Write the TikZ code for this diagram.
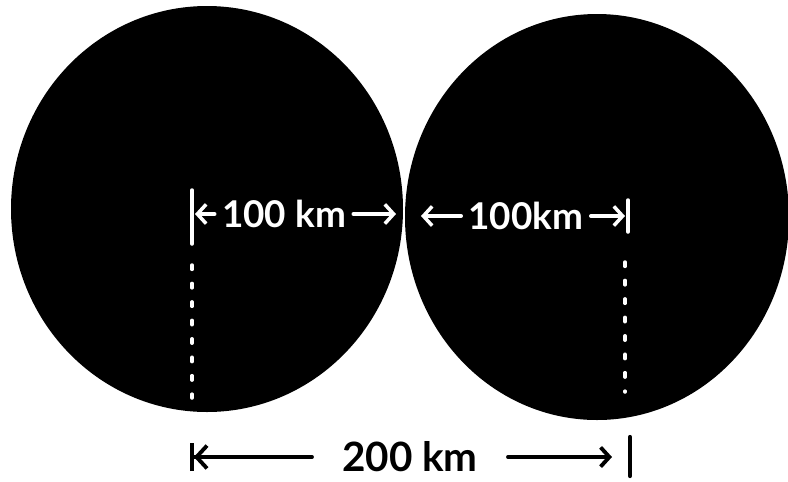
\documentclass[tikz,border=0pt]{standalone}
\usepackage{fontspec}
\setmainfont{Lato}
\usetikzlibrary{arrows.meta}
\tikzset{
  lbl/.style={font=\fontsize{21}{25}\selectfont\bfseries, inner sep=4pt, text=white},
  dim/.style={line width=2pt, line cap=round, -{Straight Barb[length=5pt,width=11pt]}},
  dotline/.style={white, line width=2pt, line cap=round, dash pattern=on 2.5pt off 8pt},
}
\begin{document}
\begin{tikzpicture}[x=0.02cm, y=-0.02cm, line join=round]
  \useasboundingbox (0,0) rectangle (788,481);

  % Two discs
  \fill (207,209) ellipse [x radius=196, y radius=203];
  \fill (597,217) ellipse [x radius=192, y radius=203];

  % Radius marks
  \coordinate (lbar) at (195,214);
  \coordinate (rtouch) at (396,214);
  \coordinate (ltouch) at (421,216);
  \coordinate (rbar) at (625,216);

  \draw[white, line width=2pt, line cap=round] (192,190) -- (192,244);
  \draw[white, line width=2pt, line cap=round] (628,200) -- (628,232);

  \node[lbl] (lkm) at (284,214) {100 km};
  \node[lbl] (rkm) at (526,216) {100km};

  \draw[dim, white] (lkm) -- (lbar);
  \draw[dim, white] (lkm) -- (rtouch);
  \draw[dim, white] (rkm) -- (ltouch);
  \draw[dim, white] (rkm) -- (rbar);

  % Dotted centre lines
  \draw[dotline] (192,265) -- (192,398);
  \draw[dotline] (625,262) -- (625,392);

  % Total distance
  \coordinate (bl) at (190,457);
  \coordinate (br) at (612,457);
  \node[font=\fontsize{23}{27}\selectfont\bfseries, inner xsep=17pt, inner ysep=1pt] (tot) at (410,457) {200 km};
  \draw[line width=2.2pt, line cap=round, -{Straight Barb[length=6pt,width=13pt] Bar[width=16pt]}] (tot) -- (bl);
  \draw[dim, line width=2.2pt] (tot) -- (br);
  \draw[line width=2.4pt, line cap=round] (630,437) -- (630,476);
\end{tikzpicture}
\end{document}
